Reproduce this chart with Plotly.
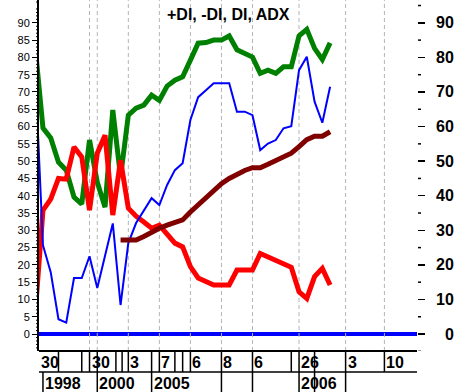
import plotly.graph_objects as go

# ---- data (bar index 0..38) ----
idx = list(range(39))
plus_di = [83, 59.6, 56.7, 49.7, 47.4, 39.6, 37.6, 56.1, 43.9, 36.7, 64.8, 45.4,
           63.3, 65.3, 66.2, 69.1, 67.6, 71.7, 73.4, 74.4, 79.2, 84.1, 84.3, 85.0,
           85.0, 86.2, 82.2, 81.2, 80.1, 75.4, 76.3, 75.4, 77.3, 77.3, 86.2, 88.1,
           82.6, 79.4, 84.2]
minus_di = [6, 35.8, 39.0, 45.0, 44.8, 54.1, 51.2, 35.8, 52.3, 57.5, 34.4, 50.3,
            36.4, 34.1, 32.4, 30.6, 31.5, 28.9, 26.3, 25.2, 19.5, 16.2, 15.0, 14.2,
            14.2, 14.2, 18.5, 18.5, 18.5, 23.3, 22.3, 21.2, 20.2, 19.3, 12.2, 10.3,
            16.6, 19.0, 14.2]
di = [76, 25.7, 17.9, 4.3, 3.3, 16.2, 16.2, 22.5, 13.3, 22.6, 32.0, 8.4,
      26.3, 32.1, 35.8, 39.3, 37.3, 43.1, 47.4, 49.4, 61.9, 68.5, 70.5, 72.5,
      72.5, 72.5, 64.3, 64.3, 63.3, 53.2, 55.1, 56.1, 59.5, 60.1, 76.3, 80.2,
      67.2, 61.1, 71.5]
adx_idx = list(range(11, 39))
adx = [27.2, 27.2, 27.2, 28.2, 29.6, 30.6, 31.5, 32.4, 33.0, 35.3, 37.3, 39.5,
       41.6, 43.5, 45.0, 46.3, 47.3, 48.1, 48.1, 49.1, 50.3, 51.3, 52.3, 54.2,
       56.2, 57.2, 57.2, 58.5]

# x-axis labels
grid_idx = [7, 8, 12, 16, 20, 24, 28, 34, 40, 45]
row1_text = ["30", "30", "3", "7", "6", "8", "6", "26", "3", "10"]
row1_pos = [0.55, 7, 12, 16, 20, 24, 28, 34, 40, 45]
row1_sep = [3, 6, 7, 8, 10.4, 11.2, 12, 15, 16, 18, 19, 20, 24, 28, 33, 34, 36, 40, 45]
row2_text = ["1998", "2000", "2005", "2006"]
row2_pos = [1, 8, 15, 34]
row2_sep = [1, 8, 15, 24, 28, 34, 36, 40]

left_ticks = list(range(0, 91, 5))
left_minor = [v for v in range(-4, 97) if v % 5 != 0]
right_ticks = list(range(0, 91, 10))
right_minor = [-5, 5, 15, 25, 35, 45, 55, 65, 75, 85, 95]

XR = [0.49, 49.2]
YR = [-4.9, 96.6]

def px(i):
    return (i - XR[0]) / (XR[1] - XR[0])

fig = go.Figure()
fig.add_trace(go.Scatter(x=idx, y=plus_di, mode="lines", line=dict(color="#008000", width=5)))
fig.add_trace(go.Scatter(x=idx, y=minus_di, mode="lines", line=dict(color="#ff0000", width=5)))
fig.add_trace(go.Scatter(x=idx, y=di, mode="lines", line=dict(color="#0000ff", width=2)))
fig.add_trace(go.Scatter(x=adx_idx, y=adx, mode="lines", line=dict(color="#800000", width=5)))
fig.add_trace(go.Scatter(x=idx, y=plus_di, yaxis="y2", mode="lines", line=dict(width=0),
                         showlegend=False, hoverinfo="skip", opacity=0))

shapes = []
# zero line
shapes.append(dict(type="line", xref="paper", yref="y", x0=0, x1=1, y0=0, y1=0,
                   line=dict(color="#0000ff", width=4), layer="below"))
# gridlines
for g in grid_idx:
    shapes.append(dict(type="line", xref="paper", yref="paper", x0=px(g), x1=px(g), y0=0, y1=1,
                       line=dict(color="#b4b4b4", width=1, dash="4px,3px"), layer="below"))
# minor ticks drawn as short lines (left / right)
for v in left_minor:
    shapes.append(dict(type="line", xref="paper", yref="y", x0=-3 / 378, x1=0, y0=v, y1=v,
                       line=dict(color="black", width=1)))
for v in right_minor:
    shapes.append(dict(type="line", xref="paper", yref="y", x0=1 + 1 / 378, x1=1 + 4 / 378, y0=v, y1=v,
                       line=dict(color="black", width=1.5)))
# label table
y_axis = 0.0
y_mid = -21 / 351
y_bot = -41 / 351
shapes.append(dict(type="line", xref="paper", yref="paper", x0=0, x1=1, y0=y_axis, y1=y_axis,
                   line=dict(color="black", width=2)))
shapes.append(dict(type="line", xref="paper", yref="paper", x0=0, x1=1, y0=y_mid, y1=y_mid,
                   line=dict(color="black", width=1.5)))
for s in row1_sep:
    shapes.append(dict(type="line", xref="paper", yref="paper", x0=px(s), x1=px(s), y0=y_axis, y1=y_mid,
                       line=dict(color="black", width=1.5)))
for s in row2_sep:
    shapes.append(dict(type="line", xref="paper", yref="paper", x0=px(s), x1=px(s), y0=y_mid, y1=y_bot,
                       line=dict(color="black", width=1.5)))

ann = []
F = "Liberation Sans, Arial, sans-serif"
for t, p in zip(row1_text, row1_pos):
    ann.append(dict(text="<b>%s</b>" % t, x=p, xref="x", y=-11 / 351, yref="paper",
                    xanchor="left", yanchor="middle", showarrow=False, xshift=0,
                    font=dict(family=F, size=16, color="black")))
for t, p in zip(row2_text, row2_pos):
    ann.append(dict(text="<b>%s</b>" % t, x=p, xref="x", y=-32 / 351, yref="paper",
                    xanchor="left", yanchor="middle", showarrow=False, xshift=0,
                    font=dict(family=F, size=16, color="black")))
for v in right_ticks:
    ann.append(dict(text="<b>%d</b>" % v, x=(456 - 39) / 378, xref="paper", y=v, yref="y",
                    xanchor="right", yanchor="middle", showarrow=False,
                    font=dict(family=F, size=16, color="black")))
ann.append(dict(text="<b>+DI, -DI, DI, ADX</b>", x=0.5, xref="paper", y=1 - 14 / 351, yref="paper",
                xanchor="center", yanchor="middle", showarrow=False,
                font=dict(family=F, size=16, color="black")))

fig.update_layout(
    width=456, height=392, margin=dict(l=39, r=39, t=0, b=41),
    paper_bgcolor="white", plot_bgcolor="white", showlegend=False,
    xaxis=dict(range=XR, showgrid=False, zeroline=False, showticklabels=False, ticks="",
               showline=False, fixedrange=True),
    yaxis=dict(range=YR, tickmode="array", tickvals=left_ticks, showgrid=False, zeroline=False,
               ticks="outside", ticklen=5, tickwidth=1, tickcolor="black",
               showline=True, linecolor="black", linewidth=2,
               tickfont=dict(family=F, size=11, color="black")),
    yaxis2=dict(range=YR, overlaying="y", side="right", tickmode="array", tickvals=right_ticks,
                showticklabels=False, showgrid=False, zeroline=False, showline=False,
                ticks="outside", ticklen=7, tickwidth=1.5, tickcolor="black"),
    shapes=shapes, annotations=ann,
)
fig.write_html("out.html", config={"displayModeBar": False, "staticPlot": True},
               post_script="document.body.style.margin='0';document.body.style.overflow='hidden';")
